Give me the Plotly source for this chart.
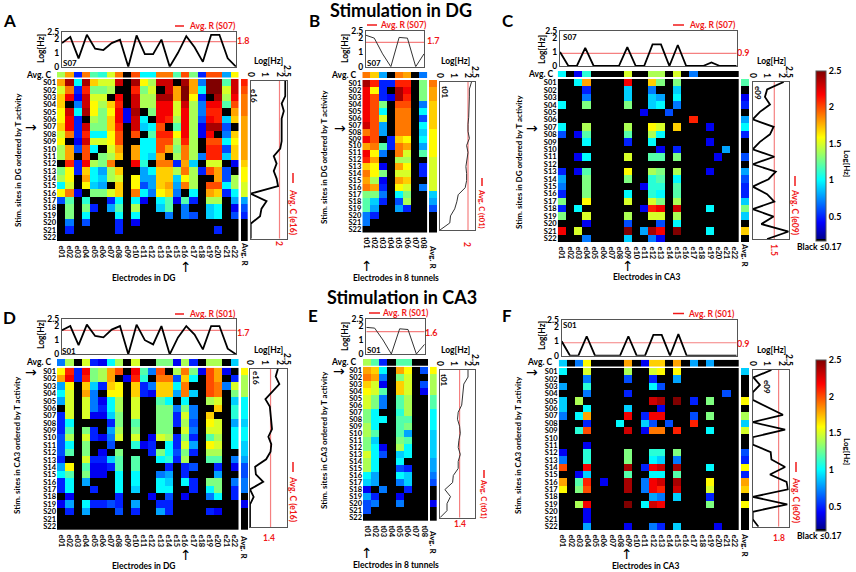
import plotly.graph_objects as go

W, H = 856, 572

electrodes = ["e%02d" % i for i in range(1, 23)]
tunnels = ["t%02d" % i for i in range(1, 9)]
sites = ["S%02d" % i for i in range(1, 23)]

# Heatmap values are log10(Hz) x 10. 0 means black (<= 0.17)
a_matrix = [
    [18,24,10,24,17,15,15,23,0,24,16,14,23,23,0,24,18,7,25,25,12,23],
    [15,19,5,21,13,13,14,0,0,21,13,15,0,23,18,25,18,10,25,25,15,23],
    [17,22,4,23,15,15,0,22,0,23,14,14,24,24,18,25,16,5,0,24,14,22],
    [17,0,7,23,16,14,17,21,0,23,14,14,22,22,15,23,14,7,22,22,12,20],
    [16,23,10,24,16,13,16,22,4,24,0,13,22,22,15,22,14,7,21,21,0,18],
    [16,22,5,0,14,13,17,22,4,23,10,0,22,21,14,22,14,6,22,21,9,17],
    [17,22,5,23,13,13,17,21,0,23,9,10,20,0,12,22,14,4,24,24,6,0],
    [15,19,5,21,10,10,16,20,0,20,0,12,21,21,16,22,14,4,22,0,7,17],
    [16,0,4,23,15,15,16,20,0,0,10,10,20,20,14,21,14,0,20,20,10,16],
    [14,18,6,20,10,0,15,18,0,18,10,10,20,18,13,19,14,0,21,21,6,17],
    [14,18,0,20,0,13,14,17,0,18,10,9,18,0,14,19,14,7,21,21,9,17],
    [0,21,5,22,14,13,19,0,0,22,11,0,19,19,5,18,9,0,15,15,0,4],
    [13,16,5,17,10,8,14,17,0,0,8,10,17,17,14,19,14,5,20,18,6,0],
    [14,16,0,18,10,9,14,15,0,16,8,8,17,17,9,16,14,0,0,18,6,14],
    [10,15,0,16,9,8,0,17,0,16,6,8,17,18,8,19,14,0,20,20,10,14],
    [16,19,4,0,13,13,15,17,0,19,10,7,16,17,7,0,10,0,18,17,5,10],
    [6,12,0,11,0,0,5,10,0,10,4,0,10,12,4,12,5,0,14,14,0,8],
    [0,13,0,13,5,0,8,12,0,14,0,0,9,12,0,7,0,0,9,10,0,4],
    [0,13,0,10,0,0,0,10,0,10,0,0,0,7,0,7,6,0,9,10,0,6],
    [0,7,0,6,0,0,0,5,0,4,0,0,0,0,0,0,0,0,0,0,0,0],
    [0,5,0,0,0,0,0,5,0,0,0,0,0,0,0,0,0,0,0,5,0,0],
    [0,0,0,0,0,0,0,0,0,0,0,0,0,0,0,0,0,0,0,0,0,0],
]
a_avg_c = [14,18,5,19,12,11,15,19,0,20,10,10,19,19,12,20,13,5,20,20,8,16]
a_avg_r = [21,20,19,19,19,18,18,18,18,18,18,17,16,16,15,15,8,6,5,0,0,0]
a_top = [1.7,2.15,0.6,2.3,1.3,1.2,1.7,1.95,0,2.25,0.9,0.9,1.95,0,1.0,2.2,1.4,0.35,2.3,2.3,0.6,0]
a_right = [2.4,2.4,2.4,2.15,2.3,2.15,2.15,2.15,2.15,2.05,1.6,1.8,1.6,1.8,1.9,0,1.1,0.75,0.65,0,0,0]

b_matrix = [
    [24,21,5,5,21,21,0,13],
    [22,16,5,0,24,22,0,13],
    [22,20,5,4,24,21,0,13],
    [22,20,13,0,20,20,0,7],
    [22,20,10,0,19,19,0,10],
    [22,20,15,0,19,19,0,6],
    [23,20,8,0,19,19,0,10],
    [19,20,8,0,19,19,0,9],
    [22,20,0,5,17,16,0,10],
    [18,19,12,5,19,18,0,8],
    [22,16,7,0,19,15,0,12],
    [21,18,0,0,14,14,0,0],
    [17,16,4,0,18,16,0,5],
    [19,16,13,0,15,15,0,5],
    [18,14,4,0,18,17,0,0],
    [19,18,5,0,16,15,0,7],
    [13,13,7,0,10,13,0,0],
    [12,9,5,0,6,14,0,0],
    [12,8,0,0,8,5,0,0],
    [7,5,0,0,0,0,0,0],
    [7,0,0,0,0,0,0,0],
    [0,0,0,0,0,0,0,0],
]
b_avg_c = [19,17,8,0,19,18,0,7]
b_avg_r = [19,18,18,17,17,17,17,16,16,16,16,15,15,15,15,15,9,8,6,0,0,0]
b_top = [2.2,2.0,0.9,0,2.05,2.0,0,0.9]
b_right = [2.25,2.1,2.1,2.1,2.1,2.05,2.0,2.0,2.1,1.9,2.0,1.9,1.85,1.9,1.9,1.8,1.3,1.2,1.05,0.75,0.7,0]

c_matrix = [
    [0,0,10,18,0,0,0,0,22,0,0,17,13,0,13,0,0,0,0,0,0,0],
    [0,0,0,5,0,0,0,0,9,0,0,7,0,0,9,0,0,0,0,0,0,0],
    [0,0,0,7,0,0,0,0,9,0,0,9,8,0,10,0,0,0,0,0,0,0],
    [10,0,0,13,0,0,0,0,13,0,0,9,10,0,7,0,0,0,0,0,0,0],
    [0,0,0,0,0,0,0,0,0,0,4,0,0,6,0,0,0,0,0,0,0,0],
    [0,0,0,0,0,0,0,0,0,0,0,0,0,0,0,0,21,0,0,0,0,0],
    [10,0,0,14,0,0,0,0,14,0,0,16,15,0,17,0,0,0,4,0,0,0],
    [6,0,4,12,0,0,0,0,12,0,0,14,10,0,0,0,0,0,0,0,0,0],
    [0,0,0,10,0,0,0,0,5,0,0,10,0,0,0,0,0,0,4,0,0,0],
    [0,0,0,0,0,0,0,0,0,0,0,0,4,0,5,0,0,0,0,0,8,0],
    [0,0,4,10,0,0,0,0,15,0,0,12,12,0,13,0,0,0,0,4,0,0],
    [0,0,0,0,0,0,0,0,0,0,0,0,0,0,0,0,0,0,0,0,0,0],
    [5,0,4,12,0,0,0,0,16,0,0,14,13,0,14,0,0,0,4,0,0,0],
    [8,0,0,13,0,0,0,0,13,0,0,11,12,0,10,0,0,0,0,0,0,0],
    [7,0,0,13,0,0,0,0,0,0,4,11,11,0,12,0,0,0,0,0,0,0],
    [5,0,0,13,0,0,0,0,10,0,0,11,10,0,12,0,0,0,0,0,0,0],
    [13,0,0,16,0,0,0,0,15,0,0,15,13,0,14,0,0,0,0,0,0,0],
    [5,0,10,0,0,0,0,0,0,0,4,21,22,0,23,0,0,0,10,0,0,0],
    [13,0,0,15,0,0,0,0,14,0,0,15,15,0,14,0,0,0,0,0,0,0],
    [0,0,0,4,0,0,0,0,6,0,0,0,6,0,10,0,0,0,0,0,0,0],
    [22,0,15,0,0,0,0,0,25,0,8,24,22,0,25,0,0,0,10,0,0,0],
    [0,0,0,7,0,0,0,0,9,0,0,7,4,0,0,0,0,0,0,0,0,0],
]
c_avg_c = [10,0,4,11,0,0,0,0,15,0,0,14,14,0,15,0,7,0,0,0,0,0]
c_avg_r = [12,0,4,5,0,8,10,5,0,0,6,0,8,6,5,5,9,13,9,0,17,0]
c_top = [1.0,0,0,1.3,0,0,0,0,1.35,0,0,1.55,1.55,0,1.5,0,0,0,0.25,0,0,0]
c_right = [2.15,1.0,0.85,1.2,0.5,0,1.45,1.2,0.5,0,1.5,0,1.6,1.1,0,1.0,1.5,0,1.45,0.6,2.5,1.0]

d_matrix = [
    [16,21,5,22,13,14,18,20,0,22,12,7,20,0,14,19,13,4,20,18,4,0],
    [18,22,5,21,13,14,18,0,4,21,11,0,19,19,6,17,10,0,20,18,0,5],
    [8,16,0,17,9,5,17,16,0,17,5,7,17,17,10,19,0,0,20,19,7,15],
    [10,15,0,18,7,0,16,16,0,17,5,4,17,17,8,19,9,0,20,19,0,13],
    [8,15,0,15,7,4,10,14,0,15,0,0,12,10,0,10,0,0,14,15,0,9],
    [0,15,0,15,7,5,10,14,0,15,0,0,13,13,7,13,7,0,0,17,0,11],
    [5,15,0,15,4,4,9,13,0,15,0,0,13,13,5,15,7,0,17,0,0,11],
    [5,10,0,0,0,0,5,13,0,12,0,0,13,13,5,14,6,0,16,15,0,8],
    [5,12,0,13,5,0,8,14,0,13,0,0,13,13,0,15,7,0,15,15,0,10],
    [6,14,0,15,5,4,7,15,0,15,0,4,15,14,5,13,5,0,12,14,0,10],
    [6,10,0,13,0,0,6,0,0,11,4,5,0,10,5,15,8,0,16,15,0,10],
    [6,12,0,13,0,4,0,13,0,0,0,5,13,10,6,13,5,0,14,14,0,0],
    [5,0,0,15,5,5,9,12,0,12,0,0,10,11,5,14,0,0,12,12,0,7],
    [8,16,0,12,4,4,5,12,0,12,0,0,0,5,0,5,6,0,0,5,0,4],
    [10,12,0,13,4,4,0,10,0,10,0,0,7,8,0,5,0,0,0,8,0,0],
    [5,10,0,8,0,0,0,10,0,10,0,0,10,9,0,10,5,0,13,13,0,7],
    [5,10,0,0,5,0,0,10,0,9,0,0,10,10,0,0,5,0,10,13,0,5],
    [0,4,0,0,0,0,0,5,0,0,0,4,0,6,0,4,0,0,7,10,0,5],
    [4,8,0,10,5,5,6,5,0,8,0,0,5,5,0,0,0,0,0,0,0,0],
    [0,5,0,8,0,0,0,6,0,5,0,0,8,5,0,0,0,0,5,4,0,0],
    [0,0,0,0,0,0,0,0,0,0,0,0,0,0,0,0,0,0,0,0,0,0],
    [0,0,0,0,0,0,0,0,0,0,0,0,0,0,0,0,0,0,0,0,0,0],
]
d_avg_c = [7,14,0,15,5,4,10,14,0,15,0,0,13,13,4,14,5,0,14,14,0,9]
d_avg_r = [16,14,14,14,10,10,10,9,10,10,9,9,8,6,6,7,7,0,4,0,0,0]
d_top = [1.7,2.0,0.65,2.1,1.3,1.2,1.75,2.0,0,2.1,1.0,0.7,2.0,0,1.2,2.0,1.4,0.35,2.0,2.0,0.4,0]
d_right = [1.9,1.75,2.0,1.55,1.05,1.35,1.4,1.45,1.5,1.25,1.45,1.4,1.1,0.35,0.4,0.9,0,0.25,0,0,0,0]

e_matrix = [
    [18,17,10,0,18,16,0,6],
    [19,18,7,0,13,15,0,0],
    [17,15,4,0,17,15,0,6],
    [16,15,12,0,17,15,0,4],
    [15,13,7,0,12,14,0,0],
    [15,13,7,0,12,14,0,0],
    [13,10,0,0,11,14,0,0],
    [13,10,10,0,12,12,0,0],
    [14,10,0,0,12,13,0,0],
    [14,12,0,0,12,8,0,0],
    [13,9,0,0,13,12,0,0],
    [13,10,4,0,14,10,0,0],
    [15,10,6,0,9,10,0,0],
    [14,10,0,0,10,0,0,0],
    [14,10,0,0,6,5,0,0],
    [10,8,0,0,10,9,0,0],
    [9,8,0,0,7,9,0,0],
    [4,0,7,0,0,5,0,0],
    [8,5,0,0,4,0,0,0],
    [6,7,0,0,7,0,0,0],
    [6,0,0,0,0,0,0,0],
    [0,0,0,0,0,0,0,0],
]
e_avg_c = [14,12,5,0,12,12,0,0]
e_avg_r = [16,14,14,14,12,12,10,10,10,9,9,9,9,8,8,7,6,0,0,4,0,0]
e_top = [1.9,1.85,1.0,0,1.8,1.75,0,0.7]
e_right = [2.0,2.0,1.7,1.65,1.6,1.55,1.3,1.25,1.4,1.45,1.35,1.3,1.45,1.3,1.3,0.95,0.9,0.35,0.75,0.5,0.5,0]

f_matrix = [
    [10,0,0,15,0,0,0,0,14,0,0,15,16,0,16,0,0,0,0,0,0,0],
    [0,0,0,7,0,0,0,0,6,0,0,5,0,0,8,0,0,0,0,0,0,0],
    [8,0,0,11,0,0,0,0,0,0,0,10,6,0,0,0,0,0,0,0,0,0],
    [0,0,0,7,0,0,0,0,5,0,0,0,0,0,0,0,0,0,0,0,6,0],
    [9,0,14,0,0,0,0,0,0,0,0,23,24,0,25,0,5,0,13,0,0,0],
    [9,0,0,10,0,0,0,0,9,0,0,0,4,0,0,0,0,0,0,0,0,0],
    [7,0,10,18,0,0,0,0,22,0,5,22,22,0,0,0,6,0,13,0,0,0],
    [0,0,0,5,0,0,0,10,0,0,9,6,0,6,0,0,21,0,0,0,0,0],
    [0,0,11,20,0,0,0,0,23,0,4,19,19,0,21,0,0,0,10,0,0,0],
    [0,0,0,0,0,0,0,0,0,0,0,0,0,0,0,0,0,0,0,0,0,0],
    [0,0,0,4,0,0,0,0,0,0,0,0,0,0,0,0,0,0,0,0,0,0],
    [4,0,0,11,0,0,0,0,13,0,0,11,11,0,13,0,0,0,0,0,0,0],
    [7,0,0,11,0,0,0,0,13,0,0,10,9,0,7,0,0,0,0,0,0,0],
    [20,0,0,22,0,0,0,0,24,0,5,22,23,0,24,0,0,0,10,0,0,0],
    [0,0,4,9,0,0,0,0,12,0,0,10,10,0,12,0,0,0,0,0,0,0],
    [18,0,12,21,0,4,0,0,24,0,7,22,23,0,24,0,0,0,16,0,0,0],
    [16,0,13,20,0,0,0,0,24,0,7,22,21,0,23,0,0,0,15,0,0,0],
    [0,0,0,0,0,0,0,0,0,0,0,8,7,0,9,0,0,0,5,0,0,0],
    [0,0,14,22,0,0,0,0,25,0,10,23,22,0,0,0,0,0,13,0,0,0],
    [0,0,0,4,0,0,0,0,0,0,0,0,0,0,0,0,0,0,0,0,0,0],
    [0,0,0,4,0,0,0,0,0,0,0,0,0,0,0,0,0,0,0,0,0,0],
    [0,0,0,8,0,0,0,0,4,0,0,7,5,0,9,0,0,0,0,4,0,0],
]
f_avg_c = [9,0,7,16,0,0,0,0,18,0,4,17,17,0,18,0,8,0,8,0,0,0]
f_avg_r = [9,0,0,0,16,0,14,9,15,0,0,6,5,16,5,18,17,0,16,0,0,0]
f_top = [1.0,0,0,1.35,0,0,0,0,1.35,0,0,1.45,1.45,0,1.5,0,0,0,0,0,0,0]
f_right = [1.3,0.05,0.5,0,0,1.0,2.1,0,2.25,0,0,1.25,1.3,2.25,1.2,2.35,2.45,0,2.4,0,0,0.4]

# jet, with a small black foot for everything at or below 0.17
colors = [
    [0, "black"], [0.012, "black"], [0.013, "rgb(0,0,143)"], [0.11, "rgb(0,0,255)"],
    [0.36, "rgb(0,255,255)"], [0.61, "rgb(255,255,0)"], [0.86, "rgb(255,0,0)"], [1, "rgb(128,0,0)"],
]

FONT = "Lato"
RED = "#f01818"
FRAME = "#555555"

fig = go.Figure()
annotations = []
shapes = []
axis_count = 0


def px_x(x):
    return x / W


def px_y(y):
    return 1 - y / H


def label(x, y, text, size=8.5, color="black", angle=0, anchor="center", family=FONT, weight=700):
    annotations.append(dict(
        x=px_x(x), y=px_y(y), xref="paper", yref="paper", text=text, showarrow=False,
        textangle=angle, xanchor=anchor, yanchor="middle",
        font=dict(family=family, size=size, color=color, weight=weight),
    ))


def red_dash(x0, y0, x1, y1):
    shapes.append(dict(type="line", xref="paper", yref="paper", x0=px_x(x0), y0=px_y(y0),
                       x1=px_x(x1), y1=px_y(y1), line=dict(color=RED, width=1.5)))


def new_axes(box):
    # box is left, right, top, bottom in pixels of the page
    global axis_count
    axis_count += 1
    n = axis_count
    fig.layout["xaxis%d" % n] = dict(domain=[px_x(box[0]), px_x(box[1])], anchor="y%d" % n, showgrid=False,
                                     zeroline=False, showticklabels=False, ticks="")
    fig.layout["yaxis%d" % n] = dict(domain=[px_y(box[3]), px_y(box[2])], anchor="x%d" % n, showgrid=False,
                                     zeroline=False, showticklabels=False, ticks="")
    return n


def heat(z, x, y, n, scale=None):
    t = go.Heatmap(z=[[v / 10 for v in row] for row in z], x=x, y=y, xaxis="x%d" % n, yaxis="y%d" % n,
                   colorscale=colors, zmin=0.17, zmax=2.5, showscale=False, hoverongaps=False)
    if scale is not None:
        t.showscale = True
        t.colorbar = dict(x=px_x(scale[0]), xanchor="left", y=px_y(scale[2]), yanchor="bottom",
                          len=(scale[2] - scale[1]) / H, lenmode="fraction", thickness=scale[3],
                          thicknessmode="pixels", xpad=0, ypad=0, outlinecolor=FRAME, outlinewidth=1,
                          tickvals=[0.5, 1, 1.5, 2, 2.5], ticktext=["0.5", "1", "1.5", "2", "2.5"],
                          ticks="", tickfont=dict(family=FONT, size=9, color="black", weight=700))
    fig.add_trace(t)


tick_font = dict(family=FONT, size=7.5, color="black", weight=700)


def panel(p):
    cols = p["cols"]
    n_cols = len(cols)

    # main matrix
    n = new_axes(p["heat"])
    heat(p["matrix"], cols, sites, n, p.get("scale"))
    fig.layout["xaxis%d" % n].update(showticklabels=True, tickmode="array", tickvals=cols, ticktext=cols,
                                     tickangle=90, tickfont=tick_font, ticklen=2, tickcolor="white", ticks="outside")
    fig.layout["yaxis%d" % n].update(showticklabels=True, tickmode="array", tickvals=sites, ticktext=sites,
                                     autorange="reversed", tickfont=tick_font)

    # Avg. C strip above the matrix
    n = new_axes(p["strip_c"])
    heat([p["avg_c"]], cols, ["Avg. C"], n)

    # Avg. R strip at the right of the matrix
    n = new_axes(p["strip_r"])
    heat([[v] for v in p["avg_r"]], ["Avg. R"], sites, n)
    fig.layout["yaxis%d" % n].update(autorange="reversed")

    # activity of one site along the top
    n = new_axes(p["top"])
    fig.add_trace(go.Scatter(x=cols, y=[p["avg_top"]] * n_cols, mode="lines", xaxis="x%d" % n, yaxis="y%d" % n,
                             line=dict(color="#f58080", width=1.2), showlegend=False))
    fig.add_trace(go.Scatter(x=cols, y=p["top_line"], mode="lines", xaxis="x%d" % n, yaxis="y%d" % n,
                             line=dict(color=p["line_color"], width=p["line_width"]), showlegend=False))
    fig.layout["xaxis%d" % n].update(range=[0, n_cols - 1], showline=True, mirror=True, linecolor=FRAME, linewidth=1.2)
    fig.layout["yaxis%d" % n].update(range=[0, 2.5], showline=True, mirror=True, linecolor=FRAME, linewidth=1.2,
                                     showticklabels=True, tickmode="array", tickvals=[0, 1, 2, 2.5],
                                     ticktext=["0", "1", "2", "2.5"], ticklen=0,
                                     tickfont=dict(family=FONT, size=8.5, color="black", weight=700))

    # activity of one electrode down the right
    n = new_axes(p["right"])
    fig.add_trace(go.Scatter(x=[p["avg_right"]] * 22, y=sites, mode="lines", xaxis="x%d" % n, yaxis="y%d" % n,
                             line=dict(color="#f58080", width=1.2), showlegend=False))
    fig.add_trace(go.Scatter(x=p["right_line"], y=sites, mode="lines", xaxis="x%d" % n, yaxis="y%d" % n,
                             line=dict(color=p["line_color"], width=p["line_width"]), showlegend=False))
    fig.layout["xaxis%d" % n].update(range=[0, 2.5], side="top", showline=True, mirror=True, linecolor=FRAME,
                                     linewidth=1.2, showticklabels=True, tickmode="array", tickvals=[0, 1, 2, 2.5],
                                     ticktext=["0", "1", "2", "2.5"], tickangle=90, ticklen=0,
                                     tickfont=dict(family=FONT, size=8.5, color="black", weight=700))
    fig.layout["yaxis%d" % n].update(range=[21, 0], showline=True, mirror=True, linecolor=FRAME, linewidth=1.2)

    # texts and arrows
    label(p["letter"][0], p["letter"][1], p["name"], size=17)
    label(p["ytitle"][0], p["ytitle"][1], p["ytitle"][2], size=8, angle=-90)
    label(p["xtitle"][0], p["xtitle"][1], p["xtitle"][2], size=8.5)
    label(p["avgc_label"][0], p["avgc_label"][1], "Avg. C", size=8.5, anchor="right")
    label(p["avgr_label"][0], p["avgr_label"][1], "Avg. R", size=8, angle=90)
    label(p["log_top"][0], p["log_top"][1], "Log[Hz]", size=8.5, angle=-90)
    label(p["log_right"][0], p["log_right"][1], "Log[Hz]", size=8.5)
    label(p["in_top"][0], p["in_top"][1], p["in_top"][2], size=8)
    label(p["in_right"][0], p["in_right"][1], p["in_right"][2], size=8, angle=90)

    x0, x1, y, tx = p["legend_r"]
    red_dash(x0, y, x1, y)
    label(tx, y, "Avg. R (%s)" % p["in_top"][2], size=8.5, color=RED)
    x, y0, y1, ty = p["legend_c"]
    red_dash(x, y0, x, y1)
    label(x, ty, "Avg. C (%s)" % p["in_right"][2], size=p.get("legend_c_size", 8.5), color=RED, angle=90)
    label(p["val_top"][0], p["val_top"][1], p["val_top"][2], size=9, color=RED)
    label(p["val_right"][0], p["val_right"][1], p["val_right"][2], size=8.5, color=RED, angle=p["val_right"][3])

    a = p["col_arrow"]
    label(a[0], (a[1] + a[2]) / 2, "↑", size=14, family="DejaVu Sans", weight=400)
    a = p["row_arrow"]
    label((a[0] + a[1]) / 2, a[2], "→", size=14, family="DejaVu Sans", weight=400)


panel(dict(name="A", cols=electrodes, matrix=a_matrix, avg_c=a_avg_c, avg_r=a_avg_r, top_line=a_top, right_line=a_right,
           avg_top=1.8, avg_right=2, line_color="black", line_width=1.8,
           heat=(57, 238.5, 79, 241), strip_c=(57, 238.5, 72, 77.5), strip_r=(241, 247.7, 79, 241),
           top=(62, 236, 32, 66.7), right=(250.7, 286.7, 81, 238.7),
           letter=(9, 20), ytitle=(18, 160, "Stim. sites in DG ordered by T activity"), xtitle=(144, 278, "Electrodes in DG"),
           avgc_label=(53, 75), avgr_label=(245, 254), log_top=(41, 49), log_right=(268, 61),
           in_top=(70, 63, "S07"), in_right=(254, 96, "e16"), legend_r=(175, 184, 26, 212), legend_c=(293, 173, 183, 212),
           val_top=(243, 41, "1.8"), val_right=(279, 243, "2", 90), col_arrow=(186, 272, 262), row_arrow=(27, 36, 127)))

panel(dict(name="B", cols=tunnels, matrix=b_matrix, avg_c=b_avg_c, avg_r=b_avg_r, top_line=b_top, right_line=b_right,
           avg_top=1.7, avg_right=2, line_color="#333333", line_width=1,
           heat=(362.3, 427.3, 80, 232.5), strip_c=(362.3, 427.3, 72, 78), strip_r=(429, 437, 80, 232.5),
           top=(366, 424, 31, 66.7), right=(440, 475, 82, 230),
           letter=(314, 20), ytitle=(324, 157, "Stim. sites in DG ordered by T activity"), xtitle=(396, 278, "Electrodes in 8 tunnels"),
           avgc_label=(358, 75), avgr_label=(433, 257), log_top=(345, 49), log_right=(456, 61),
           in_top=(374, 63, "S07"), in_right=(445, 93, "t01"), legend_r=(367, 377, 25, 403), legend_c=(482, 178, 186, 209),
           legend_c_size=7.5,
           val_top=(433, 41, "1.7"), val_right=(467, 244, "2", 90), col_arrow=(367, 272, 261), row_arrow=(336, 343, 128)))

panel(dict(name="C", cols=electrodes, matrix=c_matrix, avg_c=c_avg_c, avg_r=c_avg_r, top_line=c_top, right_line=c_right,
           avg_top=0.9, avg_right=1.5, line_color="black", line_width=1.8,
           heat=(557.7, 739, 79, 242), strip_c=(557.7, 739, 71, 77), strip_r=(741, 749, 79, 242),
           top=(560, 736.7, 31, 66), right=(752.7, 788.7, 82, 239),
           letter=(508, 20), ytitle=(519, 162, "Stim. sites in DG ordered by T activity"), xtitle=(646, 277, "Electrodes in CA3"),
           avgc_label=(555, 74), avgr_label=(745, 255), log_top=(542, 50), log_right=(771, 61),
           in_top=(570, 37, "S07"), in_right=(758, 93, "e09"), legend_r=(673, 684, 25, 712), legend_c=(795, 176, 186, 212),
           val_top=(743, 52, "0.9"), val_right=(774, 250, "1.5", 90), col_arrow=(628, 270, 261), row_arrow=(527, 537, 128),
           scale=(815.7, 70.7, 240.7, 10.3)))

panel(dict(name="D", cols=electrodes, matrix=d_matrix, avg_c=d_avg_c, avg_r=d_avg_r, top_line=d_top, right_line=d_right,
           avg_top=1.7, avg_right=1.4, line_color="black", line_width=1.8,
           heat=(57, 238.5, 367.7, 530), strip_c=(57, 238.5, 359, 366), strip_r=(241, 248, 367.7, 530),
           top=(62, 236, 319, 354.3), right=(250, 286.7, 369, 527),
           letter=(9, 317), ytitle=(17, 445, "Stim. sites in CA3 ordered by T activity"), xtitle=(144, 566, "Electrodes in DG"),
           avgc_label=(53, 362), avgr_label=(244, 547), log_top=(41, 335), log_right=(268, 350),
           in_top=(69, 351, "S01"), in_right=(256, 378, "e16"), legend_r=(175, 184, 314, 212), legend_c=(293, 462, 472, 499),
           val_top=(243, 332, "1.7"), val_right=(269, 538, "1.4", 0), col_arrow=(186, 560, 550), row_arrow=(27, 36, 372)))

panel(dict(name="E", cols=tunnels, matrix=e_matrix, avg_c=e_avg_c, avg_r=e_avg_r, top_line=e_top, right_line=e_right,
           avg_top=1.6, avg_right=1.4, line_color="#333333", line_width=1,
           heat=(363, 428, 366.7, 521), strip_c=(363, 428, 359, 365.7), strip_r=(430, 436.7, 366.7, 521),
           top=(366.3, 424.7, 319, 354), right=(440, 475, 370, 517.7),
           letter=(313, 316), ytitle=(324, 440, "Stim. sites in CA3 ordered by T activity"), xtitle=(396, 565, "Electrodes in 8 tunnels"),
           avgc_label=(358, 362), avgr_label=(433, 542), log_top=(345, 337), log_right=(456, 350),
           in_top=(374, 350, "S01"), in_right=(444, 380, "t01"), legend_r=(369, 380, 313, 405), legend_c=(484, 470, 478, 499),
           legend_c_size=7.5,
           val_top=(432, 332, "1.6"), val_right=(460, 524, "1.4", 0), col_arrow=(367, 558, 548), row_arrow=(335, 343, 371)))

panel(dict(name="F", cols=electrodes, matrix=f_matrix, avg_c=f_avg_c, avg_r=f_avg_r, top_line=f_top, right_line=f_right,
           avg_top=0.9, avg_right=1.8, line_color="black", line_width=1.8,
           heat=(558.7, 739, 368, 530), strip_c=(558.7, 739, 359.7, 366.7), strip_r=(741, 749, 368, 530),
           top=(561.7, 736.7, 319.7, 355.7), right=(752.7, 788.7, 370, 526.7),
           letter=(507, 316), ytitle=(518, 445, "Stim. sites in CA3 ordered by T activity"), xtitle=(645, 566, "Electrodes in CA3"),
           avgc_label=(554, 362), avgr_label=(745, 545), log_top=(542, 336), log_right=(771, 350),
           in_top=(570, 325, "S01"), in_right=(767, 387, "e09"), legend_r=(673, 684, 313.5, 711), legend_c=(796, 462, 472, 500),
           val_top=(743, 343, "0.9"), val_right=(779, 538, "1.8", 0), col_arrow=(627, 558, 549), row_arrow=(527, 537, 372),
           scale=(815.7, 360, 530.7, 10.3)))

label(401, 10, "Stimulation in DG", size=18)
label(402, 297, "Stimulation in CA3", size=18)
label(819, 247, "Black ≤0.17", size=8.5)
label(847, 163, "Log[Hz]", size=8, angle=90)
label(819, 535.5, "Black ≤0.17", size=8.5)
label(847, 451, "Log[Hz]", size=8, angle=90)

fig.update_layout(width=W, height=H, margin=dict(l=0, r=0, t=0, b=0, autoexpand=False), plot_bgcolor="white",
                  paper_bgcolor="white", showlegend=False, annotations=annotations, shapes=shapes)

# the page body has a default margin that would push the figure out of the window
fig.write_html("out.html", config={"displayModeBar": False}, post_script="document.body.style.margin='0';")
